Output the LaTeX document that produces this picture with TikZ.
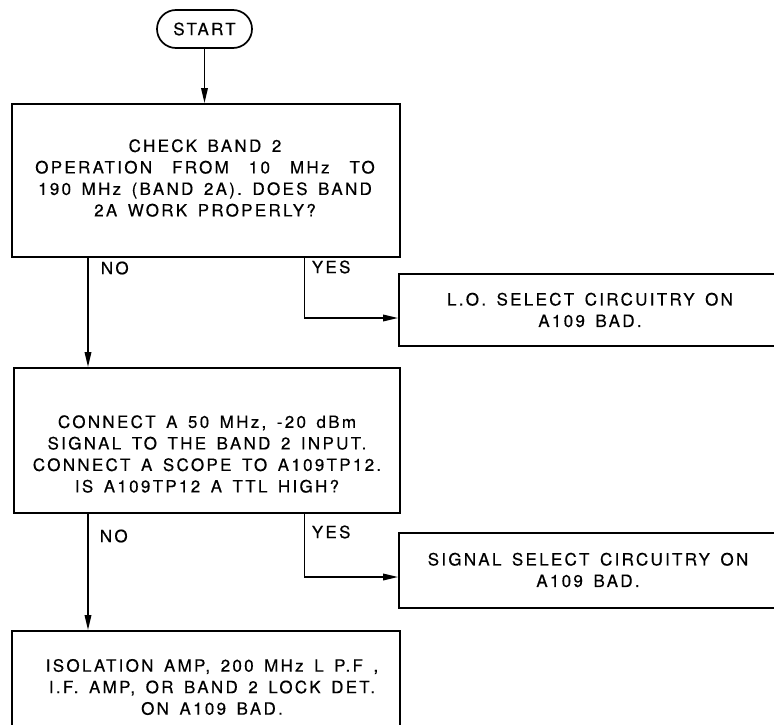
\documentclass[tikz,border=0pt]{standalone}
\usepackage{fontspec}
\setmainfont{TeX Gyre Heros}[LetterSpace=13.5,WordSpace=1.5,FakeBold=0.4]
\usetikzlibrary{arrows.meta}
\begin{document}
\begin{tikzpicture}[x=1pt,y=-1pt,line width=1.7pt,
  box/.style={draw,rectangle,inner sep=0pt},
  txt/.style={align=center,font=\fontsize{17}{21.5}\selectfont,inner sep=0pt},
  lbl/.style={anchor=west,font=\fontsize{17}{20}\selectfont,inner sep=0pt},
  arr/.style={-{Triangle[length=15pt,width=6.5pt]}}]
\useasboundingbox (0,0) rectangle (774,725);
\fill[white] (0,0) rectangle (774,725);
% boxes
\node[box,rounded corners=19pt,minimum width=95pt,minimum height=38pt,font=\fontsize{17}{20}\selectfont] (start) at (204.5,29) {START};
\node[box,minimum width=388pt,minimum height=153pt] (b1) at (206,180.5) {};
\node[txt] (b1t) at (205,178) {CHECK BAND 2\\OPERATION\hspace{20pt}FROM\hspace{20pt}10\hspace{20pt}MHz\hspace{20pt}TO\\190 MHz (BAND 2A). DOES BAND\\2A WORK PROPERLY?};
\node[box,minimum width=382pt,minimum height=72pt] (lo) at (590,310) {};
\node[txt] (lot) at (590,310) {L.O. SELECT CIRCUITRY ON\\A109 BAD.};
\node[box,minimum width=386pt,minimum height=145pt] (b2) at (207,440.5) {};
\node[txt] (b2t) at (207,454) {CONNECT A 50 MHz, -20 dBm\\SIGNAL TO THE BAND 2 INPUT.\\CONNECT A SCOPE TO A109TP12.\\IS A109TP12 A TTL HIGH?};
\node[box,minimum width=382pt,minimum height=75pt] (ss) at (590,570.5) {};
\node[txt] (sst) at (588,570) {SIGNAL SELECT CIRCUITRY ON\\A109 BAD.};
\node[box,minimum width=388pt,minimum height=112pt] (b3) at (206,687) {};
\node[txt] (b3t) at (212,687) {ISOLATION AMP, 200 MHz L P.F ,\\I.F. AMP, OR BAND 2 LOCK DET.\\ON A109 BAD.};
% helper coordinates
\coordinate (nox) at (88,0);
\coordinate (yesx) at (304.5,0);
\coordinate (y1) at (0,318);
\coordinate (y2) at (0,577);
% connectors
\draw[arr] (start.south) -- (start.south |- b1.north);
\draw[arr] (b1.south -| nox) -- (b2.north -| nox);
\draw[arr] (b1.south -| yesx) |- (lo.west |- y1);
\draw[arr] (b2.south -| nox) -- (b3.north -| nox);
\draw[arr] (b2.south -| yesx) |- (ss.west |- y2);
% labels
\node[lbl] (no1) at (100,268) {NO};
\node[lbl] (yes1) at (311,267) {YES};
\node[lbl] (no2) at (99,536) {NO};
\node[lbl] (yes2) at (311,532) {YES};
\end{tikzpicture}
\end{document}
